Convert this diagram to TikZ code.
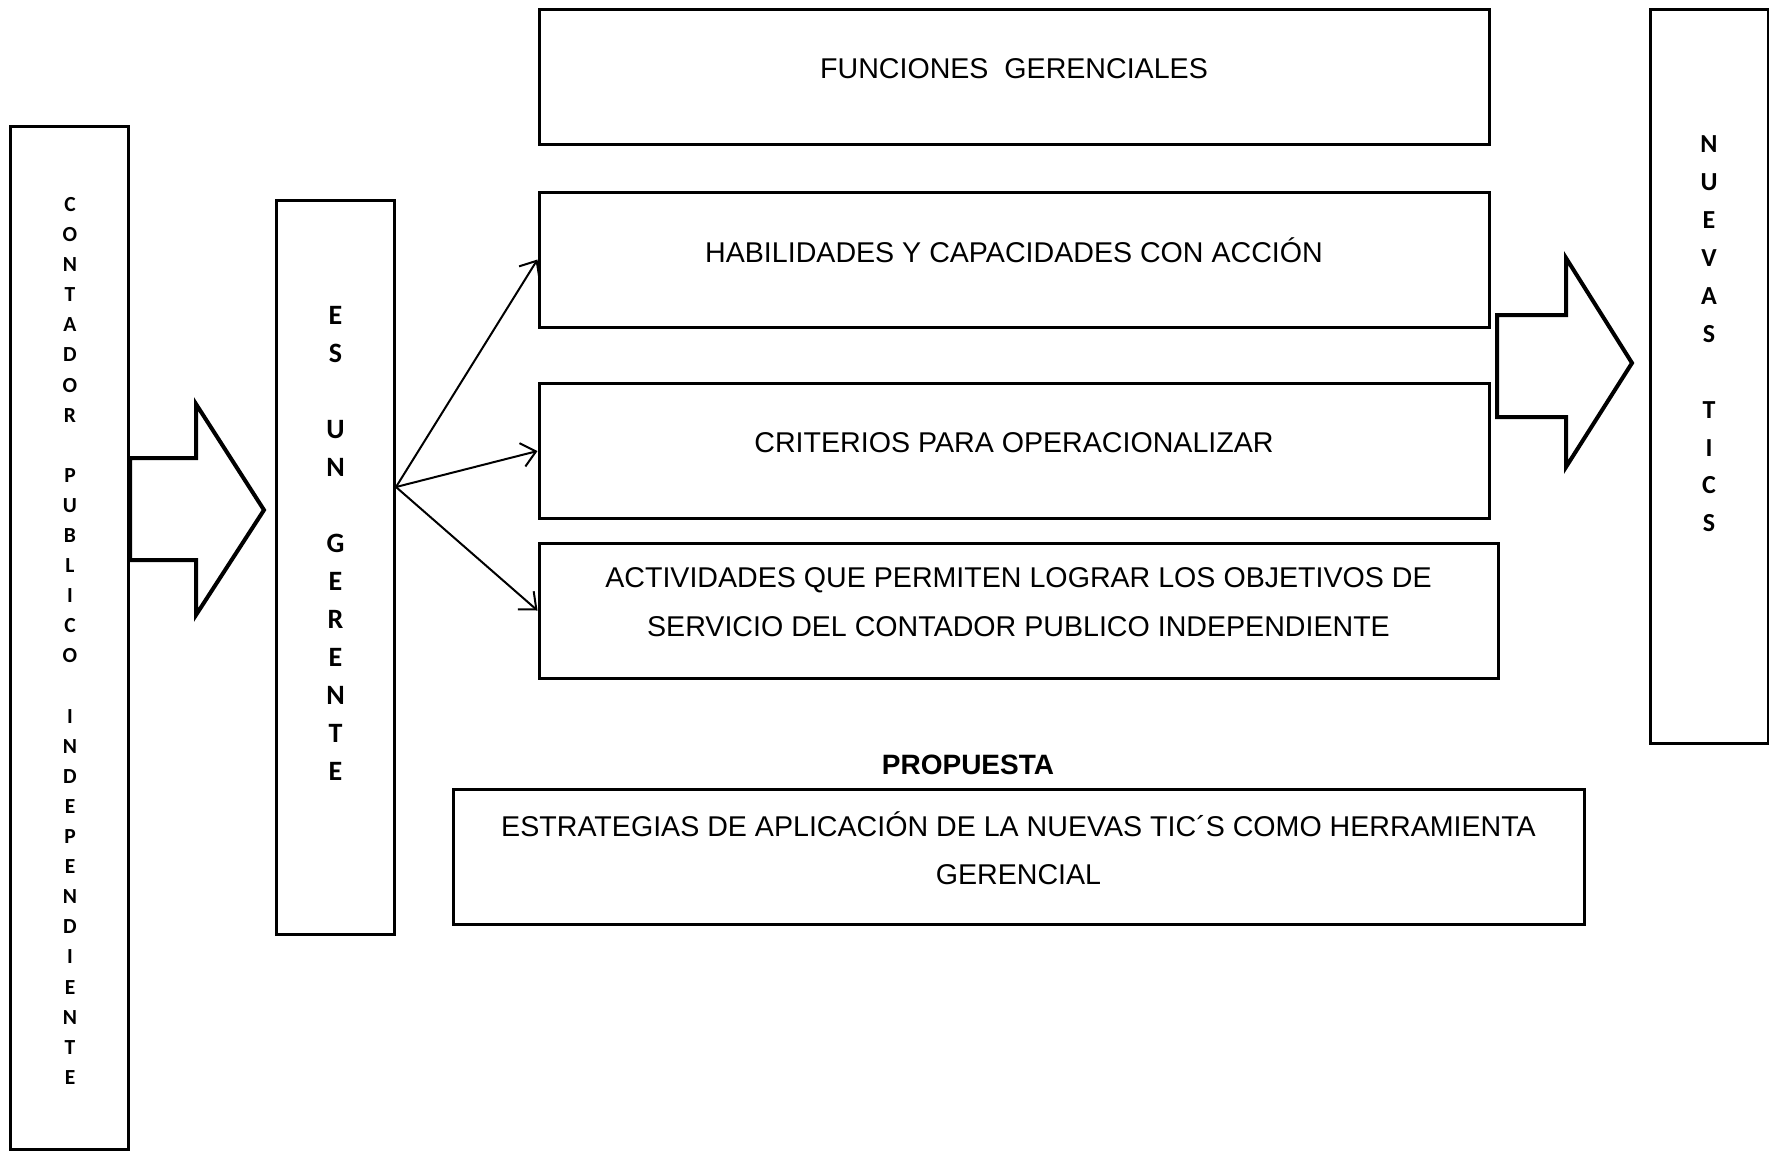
\documentclass[tikz,border=0pt]{standalone}
\usepackage{fontspec}
\setmainfont{Liberation Sans}
\newfontfamily\lettersfont{Carlito}
\usetikzlibrary{arrows.meta}

\tikzset{
  box/.style={draw, line width=3pt, inner sep=0pt, minimum height=135pt},
  column/.style={draw, line width=3pt, inner sep=0pt, minimum width=118pt},
  txt/.style={inner sep=0pt, align=center, font=\fontsize{28.6}{48.6}\selectfont},
  letters/.style={inner sep=0pt, align=center},
  blockarrow/.style={draw, line width=4pt, line join=miter},
  link/.style={line width=2pt, -{Straight Barb[length=14pt, width=24pt, line width=2pt]}},
}

\begin{document}
\begin{tikzpicture}[x=1pt, y=-1pt]
    \useasboundingbox (0,0) rectangle (1769,1152);

    % columnas laterales
    \node[column, minimum height=1023pt] (cont) at (69.5,638) {};
    \node[letters, font=\lettersfont\bfseries\fontsize{21.5}{30.1}\selectfont] (cont-t) at (70,640.8)
        {C\\O\\N\\T\\A\\D\\O\\R\\[30.1pt]P\\U\\B\\L\\I\\C\\O\\[30.1pt]I\\N\\D\\E\\P\\E\\N\\D\\I\\E\\N\\T\\E};
    \node[column, minimum height=734pt] (gerente) at (335.5,567) {};
    \node[letters, font=\lettersfont\bfseries\fontsize{28}{38}\selectfont] (gerente-t) at (335.5,543.8)
        {E\\S\\[38pt]U\\N\\[38pt]G\\E\\R\\E\\N\\T\\E};
    \node[column, minimum height=734pt] (tics) at (1709,376) {};
    \node[letters, font=\lettersfont\bfseries\fontsize{26}{37.9}\selectfont] (tics-t) at (1709,334)
        {N\\U\\E\\V\\A\\S\\[37.9pt]T\\I\\C\\S};

    % cuadros centrales
    \node[box, minimum width=950pt] (func) at (1014,76.5) {};
    \node[txt] (func-t) at (1014,68.8) {FUNCIONES\ \ GERENCIALES};
    \node[box, minimum width=950pt] (hab) at (1014,259.5) {};
    \node[txt] (hab-t) at (1014,250.5) {HABILIDADES Y CAPACIDADES CON ACCIÓN};
    \node[box, minimum width=950pt] (crit) at (1014,451) {};
    \node[txt] (crit-t) at (1014,442.3) {CRITERIOS PARA OPERACIONALIZAR};
    \node[box, minimum width=959pt] (act) at (1018.5,610.5) {};
    \node[txt] (act-t) at (1018.5,601.9) {ACTIVIDADES QUE PERMITEN LOGRAR LOS OBJETIVOS DE\\SERVICIO DEL CONTADOR PUBLICO INDEPENDIENTE};

    \node[font=\bfseries\fontsize{28}{28}\selectfont, inner sep=0pt] (prop) at (968,765) {PROPUESTA};
    \node[box, minimum width=1131pt] (estr) at (1018.5,856.5) {};
    \node[txt] (estr-t) at (1018.5,848.4) {ESTRATEGIAS DE APLICACIÓN DE LA NUEVAS TIC´S COMO HERRAMIENTA\\GERENCIAL};

    % flechas gruesas
    \draw[blockarrow] (cont.east |- 0,458) -- (196,458) -- (196,404) -- (264,510)
        -- (196,615) -- (196,560) -- (cont.east |- 0,560) -- cycle;
    \draw[blockarrow] (1497,315) -- (1566,315) -- (1566,258) -- (1632,363)
        -- (1566,467) -- (1566,417) -- (1497,417) -- cycle;

    % flechas finas
    \coordinate (src) at ([yshift=80pt]gerente.east);
    \draw[link] (src) -- (hab.west);
    \draw[link] (src) -- (crit.west);
    \draw[link] (src) -- (act.west);
\end{tikzpicture}
\end{document}
